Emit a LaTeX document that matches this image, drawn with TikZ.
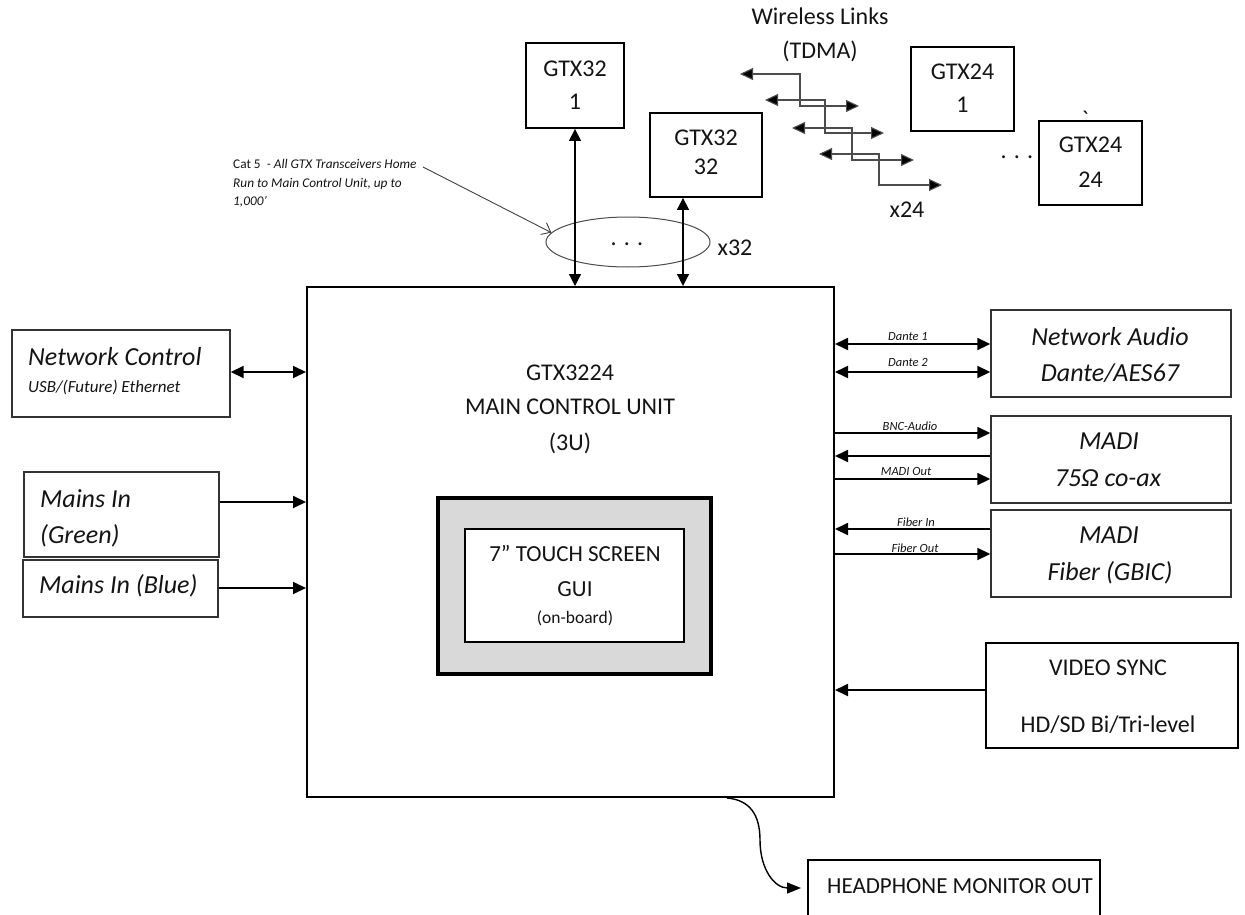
\documentclass[tikz,border=0pt]{standalone}
\usepackage{fontspec}
\setmainfont{Carlito}
\newfontfamily\rawcal[Ligatures=TeXOff]{Carlito}
\usetikzlibrary{arrows.meta,shapes.geometric}
\tikzset{
  gbox/.style={draw=black, line width=1.8pt, inner sep=0pt, fill=white},
  sbox/.style={draw=black!80, line width=1.4pt, inner sep=0pt, fill=white},
  txt/.style={inner sep=0pt, anchor=base, text=black!92},
  ltxt/.style={inner sep=0pt, anchor=base west, text=black!92},
  fbig/.style={font=\fontsize{24}{29}\selectfont},
  fit/.style={font=\fontsize{26}{31}\selectfont\itshape},
  flab/.style={font=\fontsize{12.5}{15}\selectfont\itshape},
  tipA/.tip={Triangle[length=13pt,width=12pt]},
  conn/.style={line width=1.8pt, draw=black},
  dbl/.style={conn, tipA-tipA},
  sgl/.style={conn, -tipA},
  vdbl/.style={line width=1.2pt, {Triangle[length=12pt,width=12pt]}-{Triangle[length=12pt,width=12pt]}},
  wl/.style={line width=1.1pt, draw=black!70, {Triangle[length=13pt,width=12pt,fill=black]}-{Triangle[length=13pt,width=12pt,fill=black]}}
}
\begin{document}
\begin{tikzpicture}[x=1pt,y=-1pt]
\useasboundingbox (0,0) rectangle (1245,915);
\clip (0,0) rectangle (1245,915);
\fill[white] (0,0) rectangle (1245,915);

% ---------- main control unit ----------
\node[gbox, line width=2pt, minimum width=527pt, minimum height=510pt] (main) at (570.5,542) {};
\node[txt, fbig] (mcu1) at (570,380) {GTX3224};
\node[txt, fbig] (mcu2) at (570,414) {MAIN CONTROL UNIT};
\node[txt, fbig] (mcu3) at (570,450) {(3U)};

% touch screen
\node[draw=black, line width=3.5pt, fill=black!15, minimum width=273pt, minimum height=176pt, inner sep=0pt] (tso) at (574.5,586) {};
\node[draw=black, line width=2pt, fill=white, minimum width=219pt, minimum height=113pt, inner sep=0pt] (tsi) at (574.5,585.5) {};
\node[txt, font=\fontsize{23}{28}\selectfont] (ts1) at (575,561) {7” TOUCH SCREEN};
\node[txt, font=\fontsize{23}{28}\selectfont] (ts2) at (575,596) {GUI};
\node[txt, font=\fontsize{17.5}{21}\selectfont] (ts3) at (575,623) {(on-board)};

% ---------- GTX transceivers ----------
\node[gbox, minimum width=98pt, minimum height=85pt] (g321) at (575,85.5) {};
\node[txt, fbig] (g321a) at (575,77) {GTX32};
\node[txt, fbig] (g321b) at (575,110) {1};

\node[gbox, minimum width=112pt, minimum height=84pt] (g3232) at (706,155) {};
\node[txt, fbig] (g3232a) at (706,146) {GTX32};
\node[txt, fbig] (g3232b) at (706,175) {32};

\node[gbox, minimum width=103pt, minimum height=84pt] (g241) at (962.5,89) {};
\node[txt, fbig] (g241a) at (962.5,80) {GTX24};
\node[txt, fbig] (g241b) at (962.5,113) {1};

\node[gbox, minimum width=103pt, minimum height=84pt] (g2424) at (1090.5,163) {};
\node[txt, fbig] (g2424a) at (1090.5,153) {GTX24};
\node[txt, fbig] (g2424b) at (1090.5,187) {24};

\node[txt, fbig] (gdots) at (1017,159) {. . .};
\node[txt, fbig] (tick) at (1085,128) {\rawcal `};

% wireless
\node[txt, fbig] (wl1) at (820,25) {Wireless Links};
\node[txt, fbig] (wl2) at (820,59) {(TDMA)};
\node[txt, fbig] (x24) at (907,217) {x24};
\draw[wl] (740,74) -- (800,74) -- (800,106) -- (859,106);
\draw[wl] (765,100) -- (825,100) -- (825,133) -- (884,133);
\draw[wl] (792,128) -- (852,128) -- (852,160) -- (914,160);
\draw[wl] (819,154) -- (879,154) -- (879,185) -- (942,185);

% cable bundle
\node[ellipse, draw=black!70, line width=1pt, minimum width=164pt, minimum height=50pt, inner sep=0pt] (cable) at (628,242) {};
\node[txt, fbig] (cdots) at (627,245) {. . .};
\node[txt, fbig] (x32) at (735,255) {x32};
\draw[vdbl] (g321.south) -- (g321.south |- main.north);
\coordinate (g32s) at ([xshift=-23pt]g3232.south);
\draw[vdbl] (g32s) -- (g32s |- main.north);

% annotation
\node[ltxt, font=\fontsize{13.3}{19}\selectfont] (cat1) at (233,168) {Cat 5 \ \textit{- All GTX Transceivers Home}};
\node[ltxt, font=\fontsize{13.3}{19}\selectfont\itshape] (cat2) at (233,187) {Run to Main Control Unit, up to};
\node[ltxt, font=\fontsize{13.3}{19}\selectfont\itshape] (cat3) at (233,205) {1,000’};
\coordinate (catend) at (423,167);
\draw[line width=0.9pt, draw=black!75, -{Straight Barb[length=8pt,width=13pt]}] (catend) -- (cable.173);

% ---------- left side ----------
\node[sbox, minimum width=218pt, minimum height=87pt] (nc) at (121,373.5) {};
\node[ltxt, fit] (nc1) at (28,365) {Network Control};
\node[ltxt, font=\fontsize{17}{20}\selectfont\itshape] (nc2) at (28,392) {USB/(Future) Ethernet};

\node[sbox, minimum width=195pt, minimum height=85pt] (mg) at (121.5,514.5) {};
\node[ltxt, fit] (mg1) at (40,507) {Mains In};
\node[ltxt, fit] (mg2) at (40,543) {(Green)};

\node[sbox, minimum width=195pt, minimum height=57pt] (mb) at (120.5,588.5) {};
\node[ltxt, fit] (mb1) at (39,593) {Mains In (Blue)};

\draw[dbl] (nc.east |- 0,372) -- (main.west |- 0,372);
\draw[sgl] (mg.east |- 0,502) -- (main.west |- 0,502);
\draw[sgl] (mb.east |- 0,588) -- (main.west |- 0,588);

% ---------- right side ----------
\node[sbox, minimum width=240pt, minimum height=87pt] (na) at (1111,353.5) {};
\node[txt, fit] (na1) at (1110,345) {Network Audio};
\node[txt, fit] (na2) at (1110,381) {Dante/AES67};

\node[sbox, minimum width=240pt, minimum height=87pt] (mc) at (1111,459.5) {};
\node[txt, fit] (mc1) at (1109,449) {MADI};
\node[txt, fit] (mc2) at (1108,486) {75Ω co-ax};

\node[sbox, minimum width=240pt, minimum height=87pt] (mf) at (1111,553.5) {};
\node[txt, fit] (mf1) at (1109,543) {MADI};
\node[txt, fit] (mf2) at (1110,580) {Fiber (GBIC)};

\node[gbox, minimum width=252pt, minimum height=105pt] (vs) at (1112,695.5) {};
\node[txt, fbig] (vs1) at (1108,675) {VIDEO SYNC};
\node[txt, fbig] (vs2) at (1108,732) {HD/SD Bi/Tri-level};

\draw[dbl] (main.east |- 0,344) -- (na.west |- 0,344);
\node[txt, flab] (ld1) at (908,340) {Dante 1};
\draw[dbl] (main.east |- 0,372) -- (na.west |- 0,372);
\node[txt, flab] (ld2) at (908,366) {Dante 2};

\draw[sgl] (main.east |- 0,433) -- (mc.west |- 0,433);
\node[txt, flab] (lbnc) at (910,430) {BNC-Audio};
\draw[sgl] (mc.west |- 0,456) -- (main.east |- 0,456);
\draw[sgl] (main.east |- 0,479) -- (mc.west |- 0,479);
\node[txt, flab] (lmo) at (906,475) {MADI Out};

\draw[sgl] (mf.west |- 0,529) -- (main.east |- 0,529);
\node[txt, flab] (lfi) at (916,526) {Fiber In};
\draw[sgl] (main.east |- 0,554) -- (mf.west |- 0,554);
\node[txt, flab] (lfo) at (915,552) {Fiber Out};

\draw[sgl] (vs.west |- 0,690) -- (main.east |- 0,690);

% ---------- headphone ----------
\node[gbox, minimum width=292pt, minimum height=100pt] (hp) at (954,910) {};
\node[ltxt, font=\fontsize{23}{28}\selectfont] (hp1) at (827,893) {HEADPHONE MONITOR OUT};
\coordinate (hpstart) at ([xshift=156.5pt]main.south);
\coordinate (hpin) at (801,888);
\draw[line width=1.4pt, -{Triangle[length=14pt,width=11pt]}] (hpstart) .. controls (750,800) and (760,815) .. (760,840) .. controls (760,870) and (775,888) .. (hpin);
\end{tikzpicture}
\end{document}
